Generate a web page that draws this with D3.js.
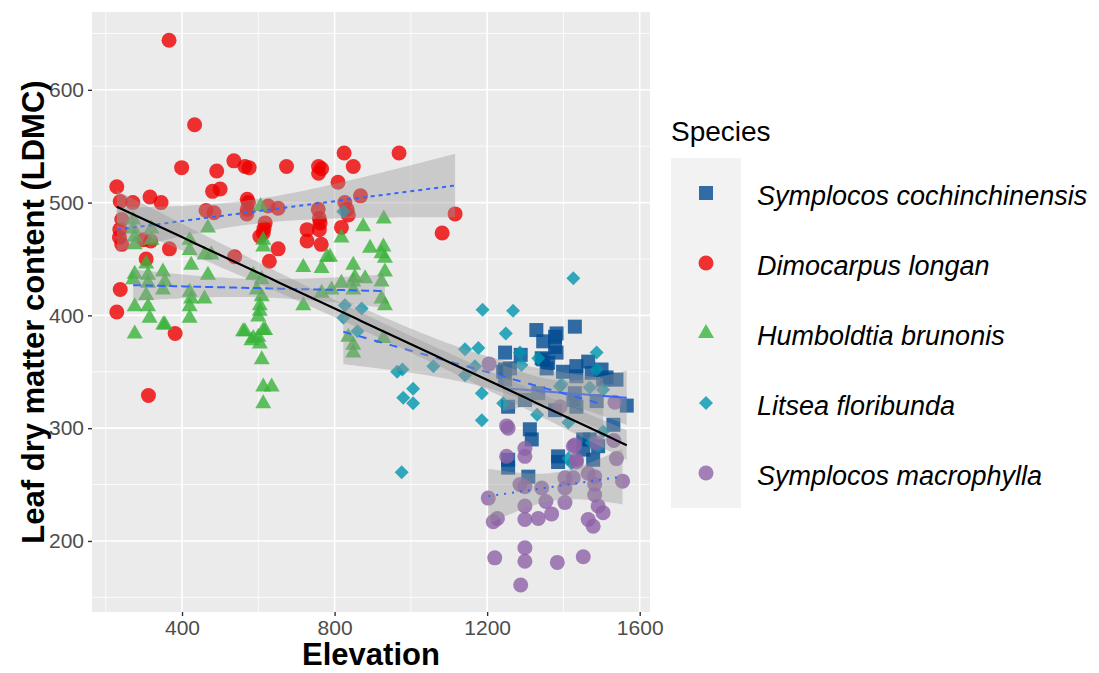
<!DOCTYPE html>
<html>
<head>
<meta charset="utf-8">
<script src="https://cdn.jsdelivr.net/npm/d3@7"></script>
<style>
    body { margin: 0; background: #ffffff; }
    text { font-family: "Liberation Sans", Arial, sans-serif; }
</style>
</head>
<body>
<script>

// Species names, in legend order
var species = [
    "Symplocos cochinchinensis",
    "Dimocarpus longan",
    "Humboldtia brunonis",
    "Litsea floribunda",
    "Symplocos macrophylla"
];

// [elevation, LDMC]
var cochinchinensis = [
    [1329,387],[1430,390],[1347,377],[1378,381],[1378,372],[1382,367],[1247,367],[1288,365],
    [1347,361],[1356,353],[1247,352],[1399,350],[1434,355],[1465,359],[1434,346],[1500,352],
    [1539,343],[1566,320],[1255,319],[1312,299],[1317,290],[1531,303],[1452,290],[1382,384],
    [1343,362],[1360,358],[1474,349],[1504,343],[1242,350],[1247,343],[1255,272],[1255,265],
    [1308,257],[1386,275],[1386,270],[1469,290],[1478,272],[1491,284],[1334,331],[1299,325],
    [1378,316],[1426,325],[1434,319],[1487,324],[1513,345],[1260,353],[1452,281],[1430,331]
];
var longan = [
    [366,644],[433,569],[399,531],[491,528],[536,537],[565,532],[576,531],[674,532],[758,532],
    [766,530],[758,526],[825,544],[849,532],[809,518],[229,514],[238,501],[271,500],[316,505],
    [345,500],[480,510],[500,512],[571,503],[574,500],[626,497],[652,495],[463,493],[484,491],
    [571,494],[570,490],[618,482],[615,477],[613,473],[604,470],[757,494],[760,486],[762,482],
    [760,476],[728,476],[728,466],[765,463],[818,478],[827,500],[833,494],[836,489],[868,506],
    [242,485],[237,476],[236,469],[242,463],[299,467],[318,466],[367,459],[306,450],[538,452],
    [629,448],[652,459],[238,423],[229,403],[382,384],[312,329],[969,544],[1116,490],[1082,473]
];
var brunonis = [
    [272,485],[272,477],[276,470],[276,463],[320,477],[320,467],[468,478],[420,467],[420,458],
    [424,445],[459,454],[477,454],[306,446],[276,437],[272,432],[311,436],[311,429],[350,439],
    [355,430],[350,423],[468,436],[306,418],[420,421],[424,415],[420,408],[420,398],[459,415],
    [276,408],[311,408],[315,398],[355,392],[276,384],[560,386],[582,378],[606,497],[613,467],
    [613,461],[875,479],[929,486],[818,469],[893,460],[928,461],[923,455],[932,451],[788,452],
    [718,443],[766,442],[849,445],[932,439],[853,434],[880,433],[849,430],[923,430],[818,429],
    [792,423],[766,420],[923,415],[718,409],[587,436],[609,432],[596,423],[609,417],[604,409],
    [604,404],[600,399],[618,387],[600,381],[565,386],[604,375],[849,423],[836,381],[849,374],
    [849,367],[932,409],[928,380],[587,380],[609,361],[613,337],[635,337],[613,322],[613,387],
    [351,392],[780,452]
];
var floribunda = [
    [1142,370],[1142,347],[1059,355],[964,350],[978,352],[1006,335],[980,327],[1006,322],
    [976,261],[1426,433],[1188,405],[1268,404],[1249,384],[1177,371],[1168,355],[1186,331],
    [1186,307],[1242,322],[1331,312],[1286,367],[1290,356],[1334,362],[1391,337],[1487,367],
    [1487,352],[1395,339],[1469,336],[1504,334],[1413,305],[1504,297],[1491,284],[1413,273],
    [1421,269],[1474,287],[827,409],[871,406],[823,398],[860,386],[823,492]
];
var macrophylla = [
    [1205,357],[1251,302],[1255,300],[1299,282],[1299,275],[1251,275],[1203,238],[1216,217],
    [1227,220],[1286,250],[1299,248],[1343,247],[1299,231],[1299,219],[1334,220],[1354,235],
    [1369,224],[1404,256],[1404,247],[1404,234],[1426,284],[1434,270],[1426,256],[1465,260],
    [1482,257],[1482,250],[1482,241],[1491,231],[1504,225],[1465,219],[1478,213],[1535,323],
    [1532,289],[1539,273],[1555,253],[1220,185],[1299,194],[1299,182],[1288,161],[1384,181],
    [1452,186],[1487,287],[1391,319],[1430,285],[1434,272]
];

var groups = [cochinchinensis, longan, brunonis, floribunda, macrophylla];

// Styling per species
var colors = ["#004A91", "#EE0000", "#39B339", "#0096AF", "#8D61A6"];
var shapes = ["square", "circle", "triangle", "diamond", "circle"];
var dashes = [null, "4,4", "8,4", "8,8", "2,6"];

// Axis ticks
var xTicks = [400, 800, 1200, 1600];
var xMinor = [200, 600, 1000, 1400];
var yTicks = [200, 300, 400, 500, 600];
var yMinor = [150, 250, 350, 450, 550, 650];


window.onload = function() {

    var svgWidth = 1099;
    var svgHeight = 673;

    // Panel position
    var panel = { left: 92, right: 650, top: 12, bottom: 612 };

    var svg = d3.select("body").append("svg")
        .attr("width", svgWidth)
        .attr("height", svgHeight);

    var xScale = d3.scaleLinear()
        .domain([164, 1627])
        .range([panel.left, panel.right]);

    var yScale = d3.scaleLinear()
        .domain([137, 669])
        .range([panel.bottom, panel.top]);

    // Panel background
    svg.append("rect")
        .attr("x", panel.left)
        .attr("y", panel.top)
        .attr("width", panel.right - panel.left)
        .attr("height", panel.bottom - panel.top)
        .attr("fill", "#EBEBEB");

    // Minor gridlines
    var grid = svg.append("g").attr("stroke", "#ffffff");
    xMinor.forEach(function(v) {
        grid.append("line")
            .attr("x1", xScale(v)).attr("x2", xScale(v))
            .attr("y1", panel.top).attr("y2", panel.bottom)
            .attr("stroke-width", 0.8);
    });
    yMinor.forEach(function(v) {
        grid.append("line")
            .attr("x1", panel.left).attr("x2", panel.right)
            .attr("y1", yScale(v)).attr("y2", yScale(v))
            .attr("stroke-width", 0.8);
    });

    // Major gridlines
    xTicks.forEach(function(v) {
        grid.append("line")
            .attr("x1", xScale(v)).attr("x2", xScale(v))
            .attr("y1", panel.top).attr("y2", panel.bottom)
            .attr("stroke-width", 1.6);
    });
    yTicks.forEach(function(v) {
        grid.append("line")
            .attr("x1", panel.left).attr("x2", panel.right)
            .attr("y1", yScale(v)).attr("y2", yScale(v))
            .attr("stroke-width", 1.6);
    });

    // Axes
    var xAxis = svg.append("g")
        .attr("transform", `translate(0, ${panel.bottom})`)
        .call(d3.axisBottom(xScale).tickValues(xTicks).tickFormat(d3.format("d"))
            .tickSize(4).tickPadding(4));
    var yAxis = svg.append("g")
        .attr("transform", `translate(${panel.left}, 0)`)
        .call(d3.axisLeft(yScale).tickValues(yTicks).tickFormat(d3.format("d"))
            .tickSize(4).tickPadding(4));

    [xAxis, yAxis].forEach(function(axis) {
        axis.select(".domain").remove();
        axis.selectAll(".tick line").attr("stroke", "#333333").attr("stroke-width", 1.4);
        axis.selectAll(".tick text")
            .attr("fill", "#4D4D4D")
            .style("font-size", "21px")
            .style("font-family", "'Liberation Sans', Arial, sans-serif");
    });

    // Points
    var pointLayer = svg.append("g");
    groups.forEach(function(data, i) {
        pointLayer.selectAll(".p" + i)
            .data(data)
            .enter()
            .append("path")
            .attr("d", shapePath(shapes[i]))
            .attr("transform", function(d) {
                return `translate(${xScale(d[0])}, ${yScale(d[1])})`;
            })
            .attr("fill", colors[i])
            .attr("fill-opacity", 0.8);
    });

    // Smooth lines per species
    var area = d3.area()
        .x(function(d) { return xScale(d.x); })
        .y0(function(d) { return yScale(d.lo); })
        .y1(function(d) { return yScale(d.hi); });
    var line = d3.line()
        .x(function(d) { return xScale(d.x); })
        .y(function(d) { return yScale(d.y); });

    groups.forEach(function(data, i) {
        var fit = fitLine(data);
        svg.append("path")
            .attr("d", area(fit))
            .attr("fill", "#999999")
            .attr("fill-opacity", 0.4);
        svg.append("path")
            .attr("d", line(fit))
            .attr("fill", "none")
            .attr("stroke", "#3366FF")
            .attr("stroke-width", 2)
            .attr("stroke-dasharray", dashes[i]);
    });

    // Overall smooth line
    var allPoints = [].concat.apply([], groups);
    var overall = fitLine(allPoints);
    svg.append("path")
        .attr("d", area(overall))
        .attr("fill", "#999999")
        .attr("fill-opacity", 0.4);
    svg.append("path")
        .attr("d", line(overall))
        .attr("fill", "none")
        .attr("stroke", "#000000")
        .attr("stroke-width", 2.2);

    // Axis titles
    svg.append("text")
        .attr("x", (panel.left + panel.right) / 2)
        .attr("y", 665)
        .attr("text-anchor", "middle")
        .style("font-size", "31px")
        .style("font-weight", "bold")
        .text("Elevation");

    svg.append("text")
        .attr("transform", `translate(44, ${(panel.top + panel.bottom) / 2}) rotate(-90)`)
        .attr("text-anchor", "middle")
        .style("font-size", "31px")
        .style("font-weight", "bold")
        .text("Leaf dry matter content (LDMC)");

    // Legend
    var legend = svg.append("g");
    legend.append("text")
        .attr("x", 671)
        .attr("y", 141)
        .style("font-size", "28px")
        .text("Species");

    species.forEach(function(name, i) {
        var cy = 158 + 70 * i;
        legend.append("rect")
            .attr("x", 671).attr("y", cy)
            .attr("width", 70).attr("height", 70)
            .attr("fill", "#F2F2F2");
        legend.append("path")
            .attr("d", shapePath(shapes[i]))
            .attr("transform", `translate(706, ${cy + 35})`)
            .attr("fill", colors[i])
            .attr("fill-opacity", 0.8);
        legend.append("text")
            .attr("x", 757)
            .attr("y", cy + 47)
            .style("font-size", "27px")
            .style("font-style", "italic")
            .text(name);
    });
};


/*
 * Path for a ggplot-like point shape centered on 0,0
 */

function shapePath(shape) {
    if (shape == "square") {
        return "M-7,-7H7V7H-7Z";
    }
    if (shape == "triangle") {
        return "M0,-9L8,5L-8,5Z";
    }
    if (shape == "diamond") {
        return "M0,-7L7,0L0,7L-7,0Z";
    }
    var r = 7.5;
    return `M${r},0A${r},${r} 0 1,1 ${-r},0A${r},${r} 0 1,1 ${r},0Z`;
}


/*
 * Linear regression with a 95% confidence band, like geom_smooth(method = "lm")
 */

function fitLine(data) {
    var n = data.length;
    var mx = d3.mean(data, function(d) { return d[0]; });
    var my = d3.mean(data, function(d) { return d[1]; });
    var sxx = d3.sum(data, function(d) { return (d[0] - mx) * (d[0] - mx); });
    var sxy = d3.sum(data, function(d) { return (d[0] - mx) * (d[1] - my); });
    var b = sxy / sxx;
    var a = my - b * mx;
    var sse = d3.sum(data, function(d) { return Math.pow(d[1] - (a + b * d[0]), 2); });
    var s = Math.sqrt(sse / (n - 2));
    var df = n - 2;
    var t = 1.96 + 2.4 / df + 3 / (df * df);

    var x0 = d3.min(data, function(d) { return d[0]; });
    var x1 = d3.max(data, function(d) { return d[0]; });

    return d3.range(80).map(function(i) {
        var xv = x0 + (x1 - x0) * i / 79;
        var yv = a + b * xv;
        var se = s * Math.sqrt(1 / n + (xv - mx) * (xv - mx) / sxx);
        return { x: xv, y: yv, lo: yv - t * se, hi: yv + t * se };
    });
}

</script>
</body>
</html>
